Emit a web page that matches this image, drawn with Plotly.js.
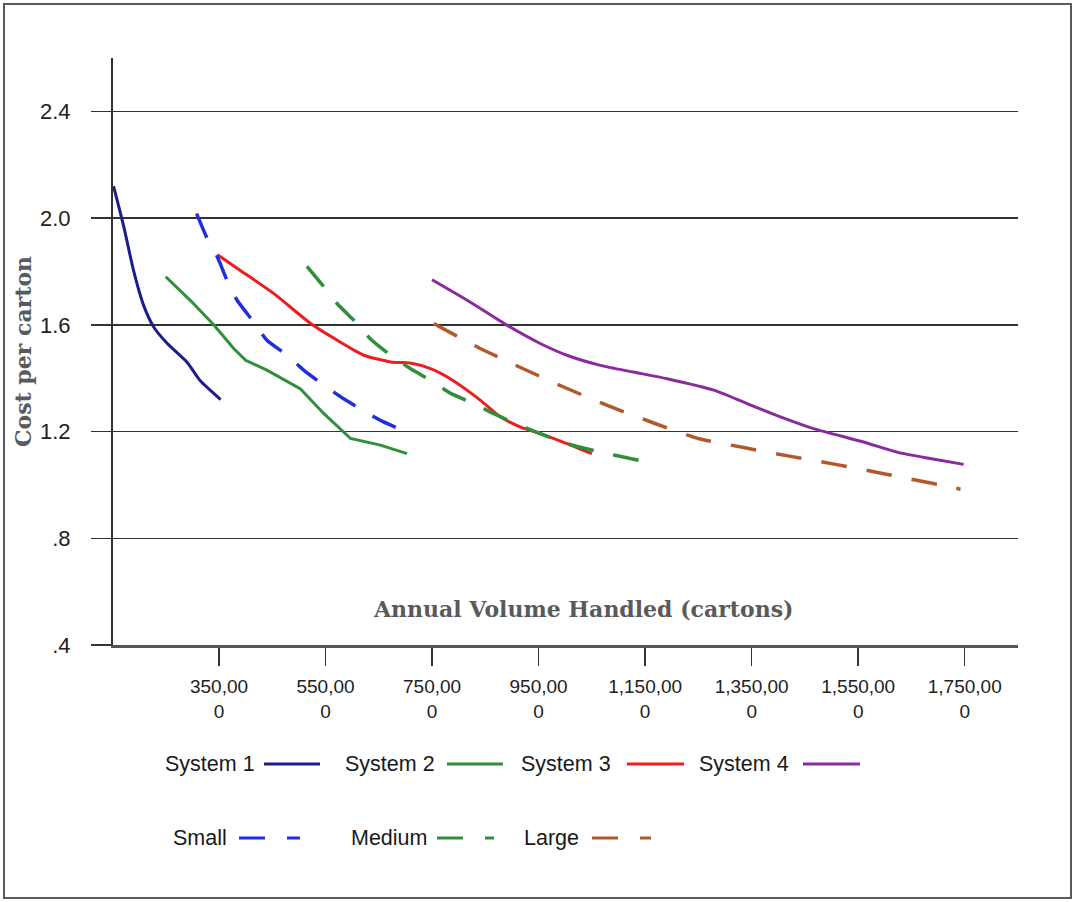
<!DOCTYPE html>
<html>
<head>
<meta charset="utf-8">
<script src="https://cdn.plot.ly/plotly-3.0.1.min.js"></script>
<style>
  html, body { margin: 0; padding: 0; background: #fff; }
  #wrap { position: relative; width: 1075px; height: 902px; }
  #chart { width: 1075px; height: 902px; }
  #frame { position: absolute; left: 3px; top: 3px; width: 1069px; height: 896px;
           border: 2px solid #5a5a5a; box-sizing: border-box; pointer-events: none; }
</style>
</head>
<body>
<div id="wrap">
  <div id="chart"></div>
  <div id="frame"></div>
</div>
<script>
// ---- Data ----
const sys1X = [152000, 171000, 190000, 209000, 228000, 253000, 290000, 315000, 353000];
const sys1Y = [2.12, 1.97, 1.80, 1.67, 1.59, 1.53, 1.46, 1.39, 1.32];

const sys2X = [250000, 297000, 340000, 378000, 400000, 440000, 503000, 547000, 597000, 653000, 703000];
const sys2Y = [1.78, 1.69, 1.60, 1.51, 1.467, 1.43, 1.36, 1.267, 1.174, 1.149, 1.117];

const sys3X = [347000, 390000, 453000, 522000, 572000, 622000, 672000, 709000, 747000, 784000, 841000, 878000, 916000, 953000, 1003000, 1050000];
const sys3Y = [1.863, 1.804, 1.717, 1.605, 1.542, 1.486, 1.461, 1.457, 1.436, 1.398, 1.317, 1.255, 1.217, 1.192, 1.155, 1.117];

const sys4X = [750000, 816000, 891000, 953000, 1003000, 1066000, 1128000, 1191000, 1279000, 1341000, 1404000, 1466000, 1560000, 1623000, 1685000, 1748000];
const sys4Y = [1.769, 1.692, 1.598, 1.530, 1.486, 1.448, 1.423, 1.398, 1.355, 1.305, 1.255, 1.211, 1.161, 1.123, 1.099, 1.077];

const smallX = [308000, 328000, 347000, 365000, 384000, 415000, 440000, 478000, 509000, 547000, 584000, 622000, 659000, 703000];
const smallY = [2.017, 1.923, 1.854, 1.767, 1.692, 1.611, 1.542, 1.486, 1.430, 1.373, 1.323, 1.277, 1.236, 1.198];

const mediumX = [515000, 547000, 572000, 609000, 634000, 672000, 709000, 747000, 784000, 828000, 866000, 906000, 953000, 1003000, 1066000, 1122000, 1166000];
const mediumY = [1.819, 1.742, 1.679, 1.605, 1.548, 1.486, 1.436, 1.392, 1.344, 1.305, 1.267, 1.230, 1.192, 1.155, 1.123, 1.099, 1.080];

const largeX = [753000, 835000, 916000, 997000, 1079000, 1166000, 1250000, 1335000, 1423000, 1510000, 1598000, 1691000, 1742000];
const largeY = [1.605, 1.517, 1.440, 1.367, 1.298, 1.232, 1.174, 1.140, 1.107, 1.076, 1.042, 1.005, 0.984];

const xTickVals = [350000, 550000, 750000, 950000, 1150000, 1350000, 1550000, 1750000];
const xTickText = ["350,00<br>0", "550,00<br>0", "750,00<br>0", "950,00<br>0", "1,150,00<br>0", "1,350,00<br>0", "1,550,00<br>0", "1,750,00<br>0"];
const yTickVals = [0.4, 0.8, 1.2, 1.6, 2.0, 2.4];
const yTickText = [".4", ".8", "1.2", "1.6", "2.0", "2.4"];

const seriesNames = ["System 1", "System 2", "System 3", "System 4", "Small", "Medium", "Large"];
const seriesColors = ["#1c1c8a", "#2f8f3a", "#f01c1c", "#8a2a9c", "#1f2fe0", "#2f8f3a", "#b3582a"];

// ---- Styling ----
const DASH = "26px,20px";
function tr(x, y, i, dashed, smooth) {
  return {
    x: x, y: y, type: "scatter", mode: "lines", name: seriesNames[i],
    line: { color: seriesColors[i], width: dashed ? 3.5 : 3, dash: dashed ? DASH : "solid",
            shape: smooth ? "spline" : "linear", smoothing: 0.6 },
    hoverinfo: "x+y+name"
  };
}
const data = [
  tr(sys1X, sys1Y, 0, false, true),
  tr(sys2X, sys2Y, 1, false, false),
  tr(sys3X, sys3Y, 2, false, true),
  tr(sys4X, sys4Y, 3, false, true),
  tr(smallX, smallY, 4, true, true),
  tr(mediumX, mediumY, 5, true, true),
  tr(largeX, largeY, 6, true, true)
];

// plot area in pixels
const L = 113, R = 1018, T = 58, B = 645;
const px = v => (v - L) / (R - L);
const py = v => (B - v) / (B - T);

// custom legend (text to the left of the line sample)
const legendItems = [
  { i: 0, textRight: 257, x0: 264, x1: 320, y: 764 },
  { i: 1, textRight: 437, x0: 447, x1: 503, y: 764 },
  { i: 2, textRight: 613, x0: 627, x1: 684, y: 764 },
  { i: 3, textRight: 791, x0: 803, x1: 860, y: 764 },
  { i: 4, textRight: 229, x0: 239, x1: 300, y: 838 },
  { i: 5, textRight: 429, x0: 437, x1: 494, y: 838 },
  { i: 6, textRight: 581, x0: 592, x1: 651, y: 838 }
];
const annotations = [];
const shapes = [];
legendItems.forEach(it => {
  const dashed = it.i >= 4;
  annotations.push({
    xref: "paper", yref: "paper", x: px(it.textRight), y: py(it.y),
    xanchor: "right", yanchor: "middle", showarrow: false,
    text: seriesNames[it.i],
    font: { family: "Liberation Sans, Arial, sans-serif", size: 21.5, color: "#1a1a1a" }
  });
  shapes.push({
    type: "line", xref: "paper", yref: "paper",
    x0: px(it.x0), x1: px(it.x1), y0: py(it.y), y1: py(it.y),
    line: { color: seriesColors[it.i], width: 3, dash: dashed ? "26px,22px" : "solid" }
  });
});

annotations.push({
  xref: "paper", yref: "paper", x: px(583), y: py(609),
  xanchor: "center", yanchor: "middle", showarrow: false,
  text: "<b>Annual Volume Handled (cartons)</b>",
  font: { family: "DejaVu Serif, Georgia, serif", size: 22, color: "#5a5a5a" }
});

const layout = {
  width: 1075, height: 902,
  margin: { l: L, r: 1075 - R, t: T, b: 902 - B, pad: 0 },
  paper_bgcolor: "#ffffff", plot_bgcolor: "#ffffff",
  showlegend: false,
  xaxis: {
    range: [151000, 1850000],
    tickmode: "array", tickvals: xTickVals, ticktext: xTickText,
    ticks: "outside", ticklen: 18, tickwidth: 1.5, tickcolor: "#333",
    showgrid: false, zeroline: false,
    showline: true, linecolor: "#555", linewidth: 3,
    ticklabelstandoff: 4,
    tickfont: { family: "Liberation Sans, Arial, sans-serif", size: 19, color: "#222" }
  },
  yaxis: {
    range: [0.4, 2.6],
    tickmode: "array", tickvals: yTickVals, ticktext: yTickText,
    ticks: "outside", ticklen: 20, tickwidth: 1.5, tickcolor: "#333",
    showgrid: true, gridcolor: "#333", gridwidth: 1.5,
    zeroline: false,
    showline: true, linecolor: "#333", linewidth: 2,
    ticklabelstandoff: 16,
    tickfont: { family: "Liberation Sans, Arial, sans-serif", size: 22, color: "#222" },
    title: { text: "<b>Cost per carton</b>", standoff: 2,
             font: { family: "DejaVu Serif, Georgia, serif", size: 22, color: "#5a5a5a" } }
  },
  annotations: annotations,
  shapes: shapes
};

Plotly.newPlot("chart", data, layout, { displayModeBar: false, staticPlot: true });
</script>
</body>
</html>
